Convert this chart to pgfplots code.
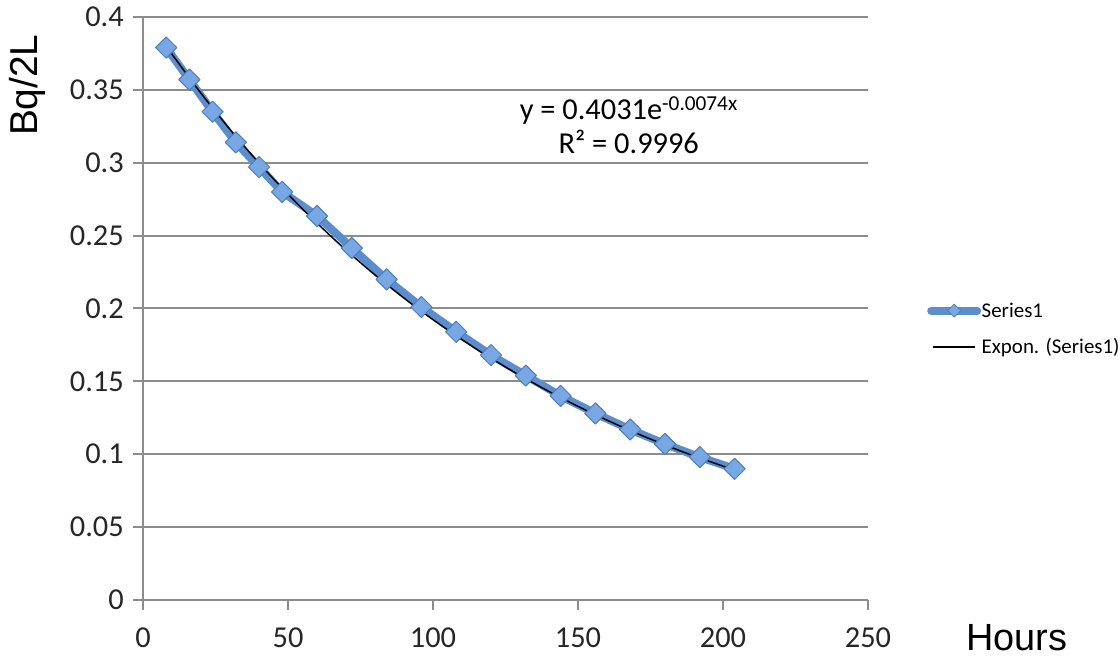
\documentclass[border=0pt]{standalone}
\usepackage{fontspec}
\setmainfont{Carlito}
\newfontfamily\arialfont{Liberation Sans}
\usepackage{pgfplots}
\pgfplotsset{compat=1.18}
\definecolor{gridgray}{RGB}{140,140,140}
\definecolor{serline}{RGB}{92,142,205}
\definecolor{serfill}{RGB}{120,168,228}
\definecolor{serdraw}{RGB}{78,125,185}
\begin{document}
\begin{tikzpicture}
\begin{axis}[
  name=ax,
  scale only axis, width=725bp, height=583bp,
  xmin=0, xmax=250, ymin=0, ymax=0.4,
  axis x line=bottom, axis y line=left,
  axis line style={-, gridgray, line width=2bp},
  xtick={0,50,100,150,200,250},
  xticklabels={0,50,100,150,200,250},
  ytick={0,0.05,0.1,0.15,0.2,0.25,0.3,0.35,0.4},
  yticklabels={0,0.05,0.1,0.15,0.2,0.25,0.3,0.35,0.4},
  tick align=outside, major tick length=10bp,
  tick style={gridgray, line width=2bp},
  ymajorgrids, grid style={gridgray, line width=2bp},
  ticklabel style={font=\fontsize{30.5}{34}\selectfont, text=black!85},
  yticklabel style={inner sep=0pt, xshift=-9bp},
  xticklabel style={inner sep=0pt, yshift=-18bp},
  /pgf/number format/assume math mode=true,
  clip=false,
  legend style={at={(1.0814,0.4648)}, anchor=west, draw=none, fill=none, inner sep=0pt,
    font=\fontsize{21}{23}\selectfont, row sep=19bp, cells={anchor=west},
    nodes={inner sep=0.5bp}},
]
\addplot[serline, line width=8bp, line cap=round, line join=round, mark=square*, mark size=7.5bp,
  mark options={rotate=45, fill=serfill, draw=serdraw, line width=1bp},
  legend image code/.code={
    \draw[serline, line width=8bp, line cap=round] (0bp,0bp) -- (46bp,0bp);
    \path[fill=serfill, draw=serdraw, line width=0.8bp] (23bp,0bp) +(0bp,6.5bp) -- +(6.5bp,0bp) -- +(0bp,-6.5bp) -- +(-6.5bp,0bp) -- cycle;
  }]
coordinates {
(8,0.379) (16,0.357) (24,0.335) (32,0.314) (40,0.297) (48,0.280)
(60,0.2635) (72,0.2415) (84,0.220) (96,0.201) (108,0.184) (120,0.168)
(132,0.154) (144,0.140) (156,0.128) (168,0.117) (180,0.107) (192,0.098) (204,0.090)
};
\addlegendentry{Series1}
\addplot[black, line width=1.5bp, smooth,
  legend image code/.code={\draw[black, line width=1.5bp] (2bp,0bp) -- (44bp,0bp);}]
coordinates {
(8,0.37993) (20,0.34765) (32,0.31809) (44,0.29107) (56,0.26634) (68,0.24371)
(80,0.22300) (92,0.20406) (104,0.18672) (116,0.17085) (128,0.15633) (140,0.14305)
(152,0.13089) (164,0.11977) (176,0.10959) (188,0.10028) (204,0.08908)
};
\addlegendentry{Expon. (Series1)}
\node[align=center, font=\fontsize{30.5}{34}\selectfont] at (axis cs:167.5,0.326)
  {y = 0.4031e\textsuperscript{-0.0074x}\\R² = 0.9996};
\node[rotate=90, font=\arialfont\fontsize{39}{41}\selectfont] at (axis description cs:-0.16,0.883) {Bq/2L};
\node[font=\arialfont\fontsize{38}{40}\selectfont] at (axis description cs:1.2055,-0.0652) {Hours};
\end{axis}
\pgfresetboundingbox
\path[use as bounding box] ([xshift=-143bp,yshift=-58bp]ax.south west) rectangle ([xshift=252bp,yshift=17bp]ax.north east);
\end{tikzpicture}
\end{document}
